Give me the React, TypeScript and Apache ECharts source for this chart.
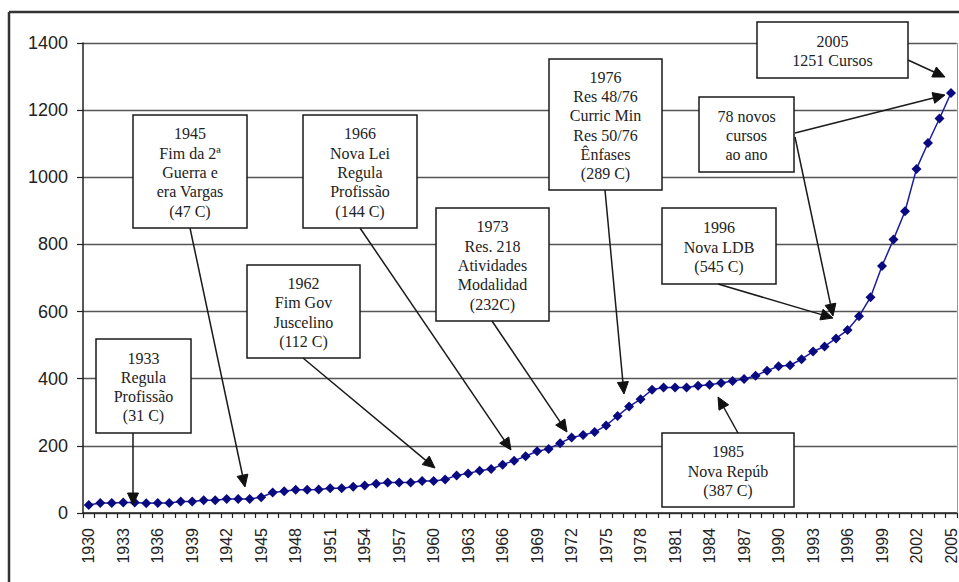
import React, { useEffect, useRef } from "react";
import * as echarts from "echarts";

const years: string[] = [
  "1930","1931","1932","1933","1934","1935","1936","1937","1938","1939",
  "1940","1941","1942","1943","1944","1945","1946","1947","1948","1949",
  "1950","1951","1952","1953","1954","1955","1956","1957","1958","1959",
  "1960","1961","1962","1963","1964","1965","1966","1967","1968","1969",
  "1970","1971","1972","1973","1974","1975","1976","1977","1978","1979",
  "1980","1981","1982","1983","1984","1985","1986","1987","1988","1989",
  "1990","1991","1992","1993","1994","1995","1996","1997","1998","1999",
  "2000","2001","2002","2003","2004","2005",
];

const cursos: number[] = [
  24, 30, 30, 31, 31, 29, 30, 30, 34, 34,
  38, 38, 42, 42, 42, 47, 61, 65, 69, 69,
  70, 74, 74, 78, 82, 87, 91, 91, 91, 95,
  95, 100, 112, 118, 126, 131, 144, 156, 169, 184,
  191, 208, 225, 232, 241, 261, 289, 317, 339, 367,
  374, 374, 374, 379, 382, 387, 393, 399, 409, 424,
  437, 440, 458, 481, 496, 520, 545, 586, 643, 736,
  815, 899, 1025, 1102, 1175, 1251,
];

const yTicks = { min: 0, max: 1400, interval: 200 };

// Annotation boxes: text lines, box rect [x, y, w, h], arrows [[x1,y1,x2,y2], ...]
const notes: { lines: string[]; box: number[]; arrows: number[][] }[] = [
  { lines: ["1933", "Regula", "Profissão", "(31 C)"], box: [96, 339, 95, 94], arrows: [[133, 433, 133, 505]] },
  { lines: ["1945", "Fim da 2ª", "Guerra e", "era Vargas", "(47 C)"], box: [133, 115, 114, 113], arrows: [[190, 228, 245, 487]] },
  { lines: ["1966", "Nova Lei", "Regula", "Profissão", "(144 C)"], box: [303, 115, 114, 113], arrows: [[360, 228, 511, 450]] },
  { lines: ["1962", "Fim Gov", "Juscelino", "(112 C)"], box: [247, 265, 113, 93], arrows: [[303, 358, 435, 468]] },
  { lines: ["1973", "Res. 218", "Atividades", "Modalidad", "(232C)"], box: [436, 208, 113, 113], arrows: [[492, 321, 567, 432]] },
  { lines: ["1976", "Res 48/76", "Curric Min", "Res 50/76", "Ênfases", "(289 C)"], box: [549, 59, 113, 131], arrows: [[605, 190, 624, 394]] },
  { lines: ["1985", "Nova Repúb", "(387 C)"], box: [662, 433, 132, 74], arrows: [[738, 433, 718, 397]] },
  { lines: ["1996", "Nova LDB", "(545 C)"], box: [662, 208, 114, 76], arrows: [[718, 284, 833, 318]] },
  { lines: ["78 novos", "cursos", "ao ano"], box: [699, 97, 95, 75], arrows: [[795, 133, 945, 95], [795, 137, 833, 316]] },
  { lines: ["2005", "1251 Cursos"], box: [757, 22, 151, 56], arrows: [[908, 60, 945, 77]] },
];

function arrowElems(a: number[]) {
  const [x1, y1, x2, y2] = a;
  const dx = x2 - x1, dy = y2 - y1;
  const L = Math.hypot(dx, dy);
  const ux = dx / L, uy = dy / L;
  const hl = 12, hw = 5.5;
  const bx = x2 - ux * hl, by = y2 - uy * hl;
  return [
    {
      type: "line",
      z: 100,
      shape: { x1, y1, x2: bx, y2: by },
      style: { stroke: "#1a1a1a", lineWidth: 1.5 },
    },
    {
      type: "polygon",
      z: 100,
      shape: { points: [[x2, y2], [bx - uy * hw, by + ux * hw], [bx + uy * hw, by - ux * hw]] },
      style: { fill: "#111", stroke: "#111", lineWidth: 1 },
    },
  ];
}

export default function App() {
  const ref = useRef<HTMLDivElement>(null);
  useEffect(() => {
    if (!ref.current) return;
    const chart = echarts.init(ref.current, undefined, { renderer: "svg" });

    const graphics: any[] = [
      { type: "line", z: 90, shape: { x1: 9, y1: 12, x2: 959, y2: 12 }, style: { stroke: "#333", lineWidth: 2.5 } },
      { type: "line", z: 90, shape: { x1: 9, y1: 12, x2: 9, y2: 582 }, style: { stroke: "#333", lineWidth: 2.5 } },
      { type: "line", z: 90, shape: { x1: 957.5, y1: 43, x2: 957.5, y2: 513 }, style: { stroke: "#999", lineWidth: 1 } },
    ];
    notes.forEach((n) => {
      const [x, y, w, h] = n.box;
      graphics.push({
        type: "rect",
        z: 100,
        shape: { x, y, width: w, height: h },
        style: { fill: "#fff", stroke: "#1a1a1a", lineWidth: 1.5 },
      });
      graphics.push({
        type: "text",
        z: 101,
        style: {
          text: n.lines.join("\n"),
          x: x + w / 2,
          y: y + h / 2 + 1,
          align: "center",
          verticalAlign: "middle",
          font: '16px "Liberation Serif", "Times New Roman", serif',
          lineHeight: 19.3,
          fill: "#222",
        },
      });
      n.arrows.forEach((a) => graphics.push(...arrowElems(a)));
    });

    chart.setOption({
      animation: false,
      backgroundColor: "#fff",
      grid: { left: 83, right: 2, top: 43, bottom: 69, containLabel: false },
      xAxis: {
        type: "category",
        data: years,
        boundaryGap: true,
        axisLine: { lineStyle: { color: "#222", width: 1.5 } },
        axisTick: { show: true, interval: 0, length: 5, lineStyle: { color: "#222", width: 1.2 } },
        axisLabel: {
          interval: 2,
          rotate: 90,
          margin: 15,
          fontSize: 16,
          fontFamily: '"Liberation Sans", Arial, sans-serif',
          color: "#222",
        },
        splitLine: { show: false },
      },
      yAxis: {
        type: "value",
        min: yTicks.min,
        max: yTicks.max,
        interval: yTicks.interval,
        axisLine: { show: true, lineStyle: { color: "#222", width: 1.5 } },
        axisTick: { show: true, length: 6, lineStyle: { color: "#222", width: 1.2 } },
        axisLabel: {
          margin: 15,
          fontSize: 18,
          fontFamily: '"Liberation Sans", Arial, sans-serif',
          color: "#222",
          formatter: (v: number) => String(v),
        },
        splitLine: { show: true, lineStyle: { color: "#555", width: 1.3 } },
      },
      series: [
        {
          type: "line",
          data: cursos,
          symbol: "diamond",
          symbolSize: 10,
          showSymbol: true,
          showAllSymbol: true,
          z: 5,
          lineStyle: { color: "#1c1c9c", width: 1.5 },
          itemStyle: { color: "#0a0a80" },
        },
      ],
      graphic: graphics,
    });
    return () => chart.dispose();
  }, []);
  return (
    <div
      ref={ref}
      style={{ position: "fixed", left: 0, top: 0, width: 959, height: 582, background: "#fff" }}
    />
  );
}
